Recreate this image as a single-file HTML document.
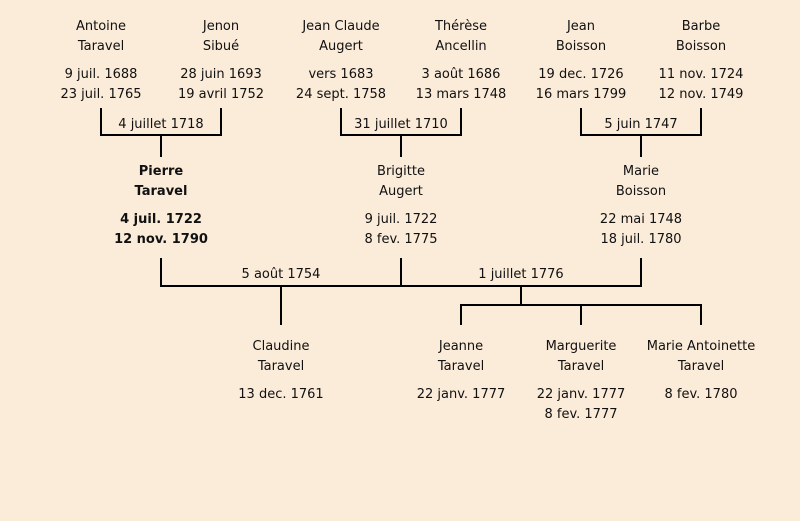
<!DOCTYPE html>
<html><head><meta charset="utf-8"><style>
body{margin:0;width:800px;height:521px;background:#fbebd9;position:relative;overflow:hidden;font-family:"DejaVu Sans","Liberation Sans",sans-serif;font-size:13px;color:#111}
.t{position:absolute;width:180px;margin-left:-90px;text-align:center;line-height:20px;white-space:nowrap}
.b{font-weight:bold}
svg{position:absolute;left:0;top:0}
</style></head><body>
<svg width="800" height="521"><g stroke="#000" stroke-width="2" fill="none">
<path d="M101 108V135H221V108M161 135V157"/>
<path d="M341 108V135H461V108M401 135V157"/>
<path d="M581 108V135H701V108M641 135V157"/>
<path d="M161 258V286H641V258M401 258V286M281 286V325M521 286V305M461 325V305H701V325M581 305V325"/>
</g></svg>
<div class="t" style="left:101px;top:17px">Antoine<br>Taravel</div>
<div class="t" style="left:221px;top:17px">Jenon<br>Sibué</div>
<div class="t" style="left:341px;top:17px">Jean Claude<br>Augert</div>
<div class="t" style="left:461px;top:17px">Thérèse<br>Ancellin</div>
<div class="t" style="left:581px;top:17px">Jean<br>Boisson</div>
<div class="t" style="left:701px;top:17px">Barbe<br>Boisson</div>
<div class="t" style="left:101px;top:65px">9 juil. 1688<br>23 juil. 1765</div>
<div class="t" style="left:221px;top:65px">28 juin 1693<br>19 avril 1752</div>
<div class="t" style="left:341px;top:65px">vers 1683<br>24 sept. 1758</div>
<div class="t" style="left:461px;top:65px">3 août 1686<br>13 mars 1748</div>
<div class="t" style="left:581px;top:65px">19 dec. 1726<br>16 mars 1799</div>
<div class="t" style="left:701px;top:65px">11 nov. 1724<br>12 nov. 1749</div>
<div class="t" style="left:161px;top:115px">4 juillet 1718</div>
<div class="t" style="left:401px;top:115px">31 juillet 1710</div>
<div class="t" style="left:641px;top:115px">5 juin 1747</div>
<div class="t b" style="left:161px;top:162px">Pierre<br>Taravel</div>
<div class="t" style="left:401px;top:162px">Brigitte<br>Augert</div>
<div class="t" style="left:641px;top:162px">Marie<br>Boisson</div>
<div class="t b" style="left:161px;top:210px">4 juil. 1722<br>12 nov. 1790</div>
<div class="t" style="left:401px;top:210px">9 juil. 1722<br>8 fev. 1775</div>
<div class="t" style="left:641px;top:210px">22 mai 1748<br>18 juil. 1780</div>
<div class="t" style="left:281px;top:265px">5 août 1754</div>
<div class="t" style="left:521px;top:265px">1 juillet 1776</div>
<div class="t" style="left:281px;top:337px">Claudine<br>Taravel</div>
<div class="t" style="left:461px;top:337px">Jeanne<br>Taravel</div>
<div class="t" style="left:581px;top:337px">Marguerite<br>Taravel</div>
<div class="t" style="left:701px;top:337px">Marie Antoinette<br>Taravel</div>
<div class="t" style="left:281px;top:385px">13 dec. 1761</div>
<div class="t" style="left:461px;top:385px">22 janv. 1777</div>
<div class="t" style="left:581px;top:385px">22 janv. 1777<br>8 fev. 1777</div>
<div class="t" style="left:701px;top:385px">8 fev. 1780</div>
</body></html>
